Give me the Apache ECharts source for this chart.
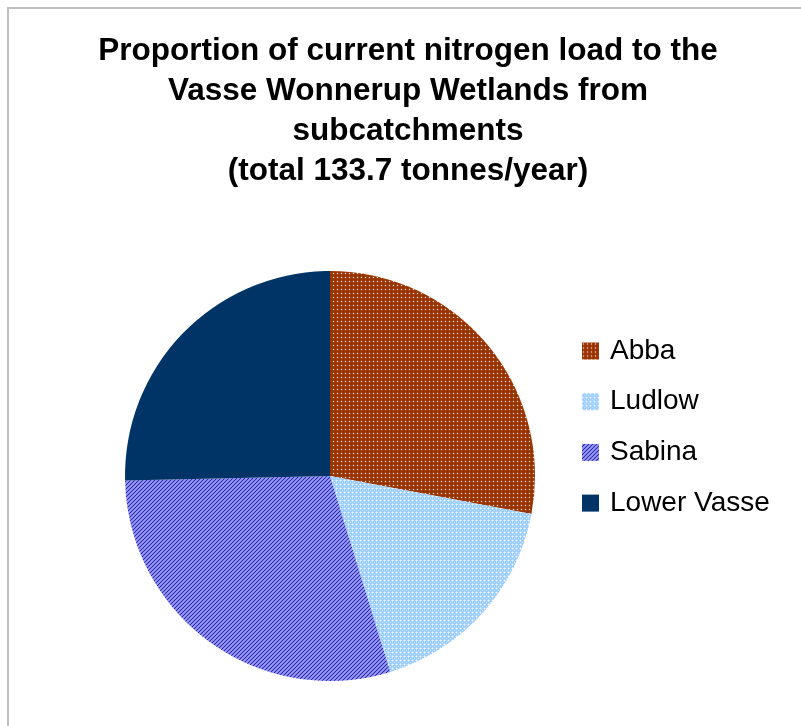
<!DOCTYPE html>
<html>
<head>
<meta charset="utf-8">
<script src="https://cdn.jsdelivr.net/npm/echarts@6/dist/echarts.min.js"></script>
<style>html,body{margin:0;padding:0;background:#fff;}#c{width:801px;height:726px;}</style>
</head>
<body>
<div id="c"></div>
<script>
const titleText = 'Proportion of current nitrogen load to the\nVasse Wonnerup Wetlands from\nsubcatchments\n(total 133.7 tonnes/year)';
const categories = ['Abba', 'Ludlow', 'Sabina', 'Lower Vasse'];
const loads = [37.4, 23.1, 39.3, 33.9];

function tile(size, fn) {
  const c = document.createElement('canvas');
  c.width = size; c.height = size;
  const ctx = c.getContext('2d');
  for (let y = 0; y < size; y++) for (let x = 0; x < size; x++) {
    ctx.fillStyle = fn(x, y);
    ctx.fillRect(x, y, 1, 1);
  }
  return c;
}
const abbaTile = tile(4, (x, y) => (x === 1 && y === 1) ? '#F4E4DC' : ((Math.abs(x-1)+Math.abs(y-1) === 1) ? '#A84A22' : '#993300'));
const ludlowTile = tile(4, (x, y) => {
  if (x === 0 && y === 0) return '#FFFFFF';
  if (x === 2 && y === 2) return '#DDEEFF';
  if ((x === 1 && y === 0) || (x === 0 && y === 1) || (x === 3 && y === 0) || (x === 0 && y === 3)) return '#C4E2FF';
  return '#99CCFF';
});
const sabinaTile = tile(4, (x, y) => {
  const k = (x + y) % 4;
  return ['#9999FF', '#8585F2', '#2A2A9A', '#8585F2'][k];
});
const palette = [
  { image: abbaTile, repeat: 'repeat' },
  { image: ludlowTile, repeat: 'repeat' },
  { image: sabinaTile, repeat: 'repeat' },
  '#003366'
];

const chart = echarts.init(document.getElementById('c'), null, { renderer: 'canvas' });
chart.setOption({
  animation: false,
  backgroundColor: '#ffffff',
  title: {
    text: titleText,
    left: 403,
    textAlign: 'center',
    top: 26,
    textStyle: {
      fontFamily: 'Liberation Sans, Arial, sans-serif',
      fontWeight: 'bold',
      fontSize: 31.5,
      lineHeight: 40,
      color: '#000000'
    }
  },
  legend: {
    orient: 'vertical',
    left: 577,
    top: 332,
    itemWidth: 17,
    itemHeight: 17,
    itemGap: 22.7,
    icon: 'rect',
    selectedMode: false,
    textStyle: {
      fontFamily: 'Liberation Sans, Arial, sans-serif',
      fontSize: 28,
      color: '#000000',
      padding: [0, 0, 0, 6]
    },
    data: categories
  },
  graphic: [{
    type: 'rect',
    shape: { x: 8, y: 8, width: 1000, height: 1000 },
    style: { fill: 'none', stroke: '#C0C0C0', lineWidth: 2 },
    silent: true,
    z: -1
  }],
  series: [{
    type: 'pie',
    center: [330, 476],
    radius: 205,
    startAngle: 90,
    clockwise: true,
    label: { show: false },
    labelLine: { show: false },
    emphasis: { disabled: true },
    itemStyle: { borderWidth: 0 },
    data: categories.map((n, i) => ({ name: n, value: loads[i], itemStyle: { color: palette[i] } }))
  }]
});
</script>
</body>
</html>
